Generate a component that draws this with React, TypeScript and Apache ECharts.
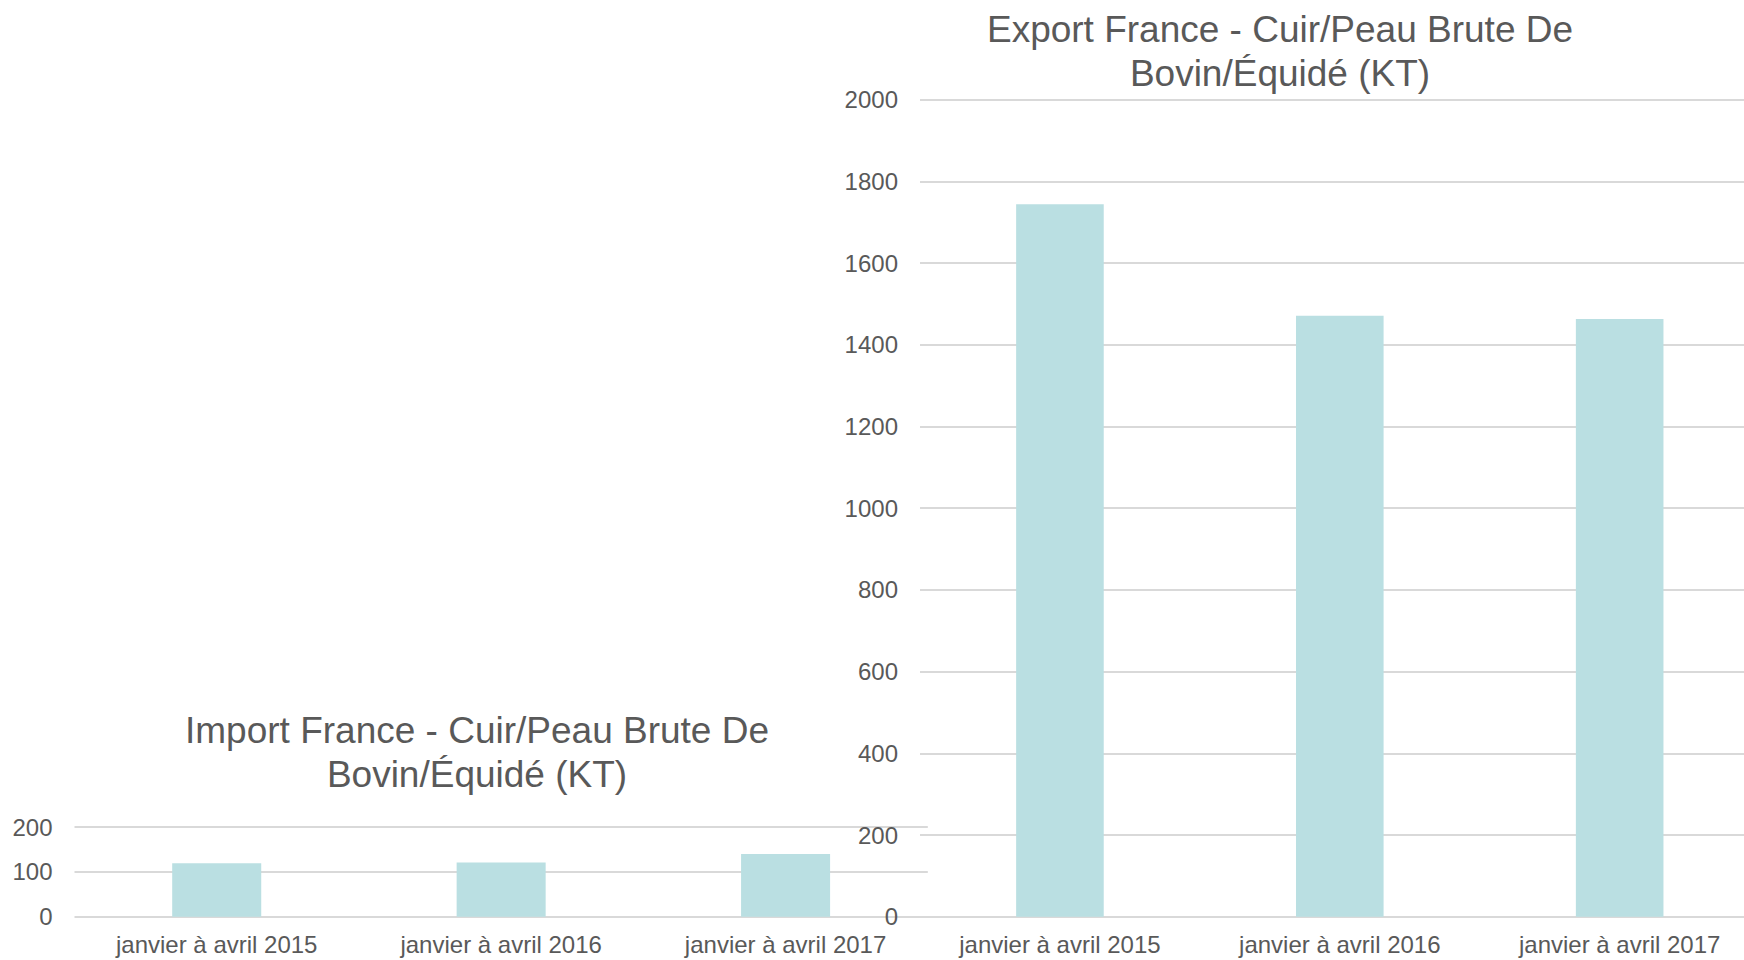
import React, { useEffect, useRef } from "react";
import * as echarts from "echarts";

const categories = ["janvier à avril 2015", "janvier à avril 2016", "janvier à avril 2017"];
const importValues = [119, 121, 140];
const exportValues = [1744, 1471, 1463];
const importTitle = "Import France - Cuir/Peau Brute De\nBovin/Équidé (KT)";
const exportTitle = "Export France - Cuir/Peau Brute De\nBovin/Équidé (KT)";

const FONT = "'Liberation Sans', Arial, sans-serif";
const TEXT = "#595959";
const GRID = "#d9d9d9";
const BAR = "#badfe2";

export default function App() {
  const ref = useRef<HTMLDivElement>(null);
  useEffect(() => {
    if (!ref.current) return;
    const chart = echarts.init(ref.current, null, { renderer: "svg" });
    const titleStyle = {
      fontSize: 37,
      lineHeight: 43.5,
      color: TEXT,
      fontFamily: FONT,
      fontWeight: "normal" as const,
    };
    const yAxisCommon = {
      type: "value" as const,
      axisLine: { show: false },
      axisTick: { show: false },
      axisLabel: {
        color: TEXT,
        fontSize: 24,
        fontFamily: FONT,
        margin: 22,
        formatter: (v: number) => String(v),
      },
      splitLine: { lineStyle: { color: GRID, width: 2 } },
    };
    const xAxisCommon = {
      type: "category" as const,
      data: categories,
      axisLine: { show: false },
      axisTick: { show: false },
      axisLabel: { color: TEXT, fontSize: 24, fontFamily: FONT, margin: 16, interval: 0 },
    };
    chart.setOption({
      animation: false,
      backgroundColor: "#ffffff",
      title: [
        { text: importTitle, left: 477, top: 709, textAlign: "center", padding: 0, textStyle: titleStyle },
        { text: exportTitle, left: 1280, top: 8, textAlign: "center", padding: 0, textStyle: titleStyle },
      ],
      grid: [
        { left: 74.5, width: 853.3, top: 827, bottom: 43.3, outerBoundsMode: "none", containLabel: false },
        { left: 920, width: 839.6, top: 99.7, bottom: 43.3, outerBoundsMode: "none", containLabel: false },
      ],
      xAxis: [
        { ...xAxisCommon, gridIndex: 0 },
        { ...xAxisCommon, gridIndex: 1 },
      ],
      yAxis: [
        { ...yAxisCommon, gridIndex: 0, min: 0, max: 200, interval: 100 },
        { ...yAxisCommon, gridIndex: 1, min: 0, max: 2000, interval: 200 },
      ],
      series: [
        {
          type: "bar",
          xAxisIndex: 0,
          yAxisIndex: 0,
          data: importValues,
          barWidth: "31.3%",
          itemStyle: { color: BAR },
        },
        {
          type: "bar",
          xAxisIndex: 1,
          yAxisIndex: 1,
          data: exportValues,
          barWidth: "31.3%",
          itemStyle: { color: BAR },
        },
      ],
    });
    return () => chart.dispose();
  }, []);
  return (
    <div
      ref={ref}
      style={{ position: "fixed", left: 0, top: 0, width: 1744, height: 960, background: "#fff" }}
    />
  );
}
